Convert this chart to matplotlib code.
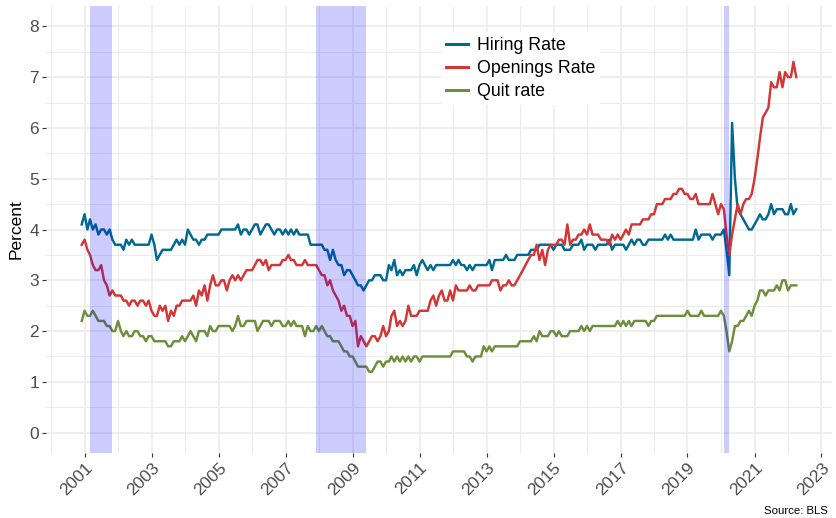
import pandas as pd
import matplotlib
matplotlib.use("Agg")
import matplotlib.pyplot as plt
from matplotlib.lines import Line2D

plt.rcParams['font.family'] = ['Liberation Sans', 'DejaVu Sans']

# ── Data: JOLTS monthly rates (percent), Dec 2000 .. Apr 2022 ────────────────
start_month = '2000-12-01'

hiring_rate = [
    4.1,
    4.3, 4.0, 4.2, 4.0, 4.1, 3.9, 4.0, 4.0, 3.9, 4.0, 3.8, 3.7,   # 2001
    3.7, 3.7, 3.6, 3.8, 3.7, 3.8, 3.7, 3.7, 3.7, 3.7, 3.7, 3.7,   # 2002
    3.9, 3.7, 3.4, 3.5, 3.6, 3.6, 3.6, 3.6, 3.7, 3.8, 3.7, 3.8,   # 2003
    3.7, 4.0, 3.9, 3.8, 3.8, 3.7, 3.8, 3.8, 3.9, 3.9, 3.9, 3.9,   # 2004
    3.9, 4.0, 4.0, 4.0, 4.0, 4.0, 4.0, 4.1, 3.9, 4.0, 4.0, 3.9,   # 2005
    4.0, 4.1, 4.1, 3.9, 4.0, 4.1, 4.1, 4.0, 3.9, 4.0, 4.0, 3.9,   # 2006
    4.0, 3.9, 4.0, 3.9, 4.0, 3.9, 3.9, 3.9, 3.9, 3.7, 3.7, 3.7,   # 2007
    3.7, 3.7, 3.6, 3.6, 3.4, 3.6, 3.4, 3.3, 3.3, 3.1, 3.2, 3.2,   # 2008
    3.1, 3.0, 2.9, 2.9, 2.8, 2.9, 3.0, 3.0, 3.1, 3.1, 3.1, 3.0,   # 2009
    3.0, 3.3, 3.2, 3.4, 3.1, 3.2, 3.1, 3.2, 3.2, 3.2, 3.3, 3.1,   # 2010
    3.3, 3.4, 3.3, 3.2, 3.3, 3.2, 3.3, 3.3, 3.3, 3.3, 3.3, 3.3,   # 2011
    3.4, 3.3, 3.4, 3.3, 3.3, 3.2, 3.3, 3.2, 3.3, 3.3, 3.3, 3.3,   # 2012
    3.3, 3.4, 3.2, 3.4, 3.4, 3.4, 3.4, 3.5, 3.4, 3.4, 3.4, 3.5,   # 2013
    3.5, 3.5, 3.5, 3.5, 3.6, 3.6, 3.6, 3.7, 3.7, 3.7, 3.7, 3.7,   # 2014
    3.6, 3.7, 3.7, 3.7, 3.6, 3.6, 3.6, 3.7, 3.7, 3.7, 3.8, 3.6,   # 2015
    3.7, 3.7, 3.7, 3.6, 3.7, 3.7, 3.7, 3.7, 3.8, 3.6, 3.7, 3.7,   # 2016
    3.7, 3.7, 3.6, 3.7, 3.8, 3.7, 3.8, 3.8, 3.7, 3.7, 3.8, 3.8,   # 2017
    3.8, 3.8, 3.8, 3.8, 3.9, 3.8, 3.9, 3.8, 3.8, 3.8, 3.8, 3.8,   # 2018
    3.8, 3.8, 3.8, 4.0, 3.8, 3.9, 3.9, 3.9, 3.9, 3.8, 3.9, 3.9,   # 2019
    3.9, 4.0, 3.6, 3.1, 6.1, 5.0, 4.4, 4.3, 4.2, 4.1, 4.0, 4.0,   # 2020
    4.1, 4.2, 4.3, 4.2, 4.2, 4.3, 4.5, 4.3, 4.4, 4.4, 4.4, 4.3,   # 2021
    4.3, 4.5, 4.3, 4.4,                                           # 2022
]

openings_rate = [
    3.7,
    3.8, 3.6, 3.5, 3.3, 3.2, 3.2, 3.3, 3.0, 2.9, 2.7, 2.8, 2.7,   # 2001
    2.7, 2.7, 2.6, 2.6, 2.5, 2.6, 2.6, 2.5, 2.6, 2.6, 2.5, 2.6,   # 2002
    2.4, 2.3, 2.3, 2.5, 2.4, 2.5, 2.2, 2.4, 2.3, 2.5, 2.5, 2.6,   # 2003
    2.6, 2.6, 2.6, 2.7, 2.5, 2.8, 2.7, 2.9, 2.6, 2.9, 3.1, 2.9,   # 2004
    2.9, 3.0, 3.0, 2.8, 3.0, 3.1, 3.0, 3.1, 3.0, 3.1, 3.2, 3.2,   # 2005
    3.2, 3.3, 3.4, 3.4, 3.3, 3.4, 3.2, 3.3, 3.3, 3.3, 3.3, 3.4,   # 2006
    3.4, 3.5, 3.4, 3.4, 3.3, 3.3, 3.3, 3.4, 3.3, 3.3, 3.3, 3.3,   # 2007
    3.2, 3.1, 3.1, 2.9, 3.0, 2.8, 2.7, 2.6, 2.4, 2.5, 2.3, 2.3,   # 2008
    2.1, 2.2, 1.7, 1.9, 1.8, 1.7, 1.8, 1.9, 1.9, 1.8, 1.9, 2.1,   # 2009
    1.9, 2.0, 2.3, 2.4, 2.1, 2.2, 2.1, 2.2, 2.5, 2.3, 2.3, 2.3,   # 2010
    2.4, 2.4, 2.4, 2.4, 2.6, 2.7, 2.5, 2.7, 2.8, 2.6, 2.6, 2.8,   # 2011
    2.6, 2.9, 2.8, 2.8, 2.8, 2.8, 2.9, 2.8, 2.8, 2.9, 2.9, 2.9,   # 2012
    2.9, 2.9, 3.0, 3.0, 3.0, 2.8, 2.9, 2.9, 3.0, 2.9, 2.9, 3.0,   # 2013
    3.1, 3.2, 3.3, 3.4, 3.5, 3.5, 3.7, 3.4, 3.6, 3.3, 3.6, 3.7,   # 2014
    3.7, 3.7, 3.8, 3.8, 3.7, 4.1, 3.7, 3.8, 3.8, 3.9, 3.9, 4.0,   # 2015
    3.9, 4.1, 3.9, 3.9, 3.9, 3.8, 3.8, 3.8, 3.7, 3.9, 3.8, 3.9,   # 2016
    3.8, 3.9, 4.0, 3.9, 4.1, 4.1, 4.1, 4.1, 4.2, 4.2, 4.2, 4.3,   # 2017
    4.3, 4.5, 4.5, 4.5, 4.6, 4.6, 4.6, 4.7, 4.7, 4.8, 4.8, 4.7,   # 2018
    4.7, 4.6, 4.6, 4.7, 4.5, 4.5, 4.5, 4.5, 4.5, 4.7, 4.5, 4.3,   # 2019
    4.5, 4.4, 3.9, 3.5, 3.9, 4.2, 4.5, 4.3, 4.5, 4.6, 4.6, 4.7,   # 2020
    5.0, 5.4, 5.8, 6.2, 6.3, 6.4, 6.9, 6.8, 6.8, 7.1, 6.8, 7.1,   # 2021
    7.0, 7.0, 7.3, 7.0,                                           # 2022
]

quit_rate = [
    2.2,
    2.4, 2.3, 2.3, 2.4, 2.3, 2.2, 2.2, 2.2, 2.1, 2.1, 2.0, 2.0,   # 2001
    2.2, 2.0, 1.9, 2.0, 1.9, 1.9, 2.0, 2.0, 1.9, 1.9, 1.8, 1.9,   # 2002
    1.9, 1.8, 1.8, 1.8, 1.8, 1.8, 1.7, 1.7, 1.8, 1.8, 1.8, 1.9,   # 2003
    1.8, 1.9, 2.0, 1.9, 1.8, 2.0, 2.0, 2.0, 1.9, 2.1, 2.0, 2.0,   # 2004
    2.1, 2.1, 2.1, 2.1, 2.1, 2.0, 2.1, 2.3, 2.1, 2.1, 2.2, 2.2,   # 2005
    2.2, 2.2, 2.0, 2.1, 2.2, 2.2, 2.2, 2.1, 2.2, 2.2, 2.2, 2.1,   # 2006
    2.1, 2.2, 2.1, 2.2, 2.1, 2.1, 2.1, 1.9, 2.1, 2.0, 2.0, 2.1,   # 2007
    2.0, 2.1, 2.0, 1.9, 1.9, 1.8, 1.8, 1.8, 1.7, 1.6, 1.6, 1.5,   # 2008
    1.5, 1.4, 1.3, 1.3, 1.3, 1.3, 1.2, 1.2, 1.3, 1.4, 1.4, 1.3,   # 2009
    1.4, 1.4, 1.5, 1.4, 1.5, 1.4, 1.5, 1.4, 1.5, 1.4, 1.5, 1.5,   # 2010
    1.4, 1.5, 1.5, 1.5, 1.5, 1.5, 1.5, 1.5, 1.5, 1.5, 1.5, 1.5,   # 2011
    1.6, 1.6, 1.6, 1.6, 1.6, 1.5, 1.5, 1.4, 1.5, 1.5, 1.5, 1.7,   # 2012
    1.6, 1.7, 1.6, 1.7, 1.7, 1.7, 1.7, 1.7, 1.7, 1.7, 1.7, 1.7,   # 2013
    1.8, 1.8, 1.8, 1.8, 1.8, 1.9, 1.8, 2.0, 1.9, 1.9, 1.9, 2.0,   # 2014
    2.0, 1.9, 2.0, 1.9, 1.9, 1.9, 2.0, 2.0, 2.0, 2.0, 2.1, 2.0,   # 2015
    2.1, 2.0, 2.1, 2.1, 2.1, 2.1, 2.1, 2.1, 2.1, 2.1, 2.1, 2.2,   # 2016
    2.1, 2.2, 2.1, 2.2, 2.1, 2.2, 2.2, 2.2, 2.2, 2.2, 2.1, 2.2,   # 2017
    2.2, 2.3, 2.3, 2.3, 2.3, 2.3, 2.3, 2.3, 2.3, 2.3, 2.3, 2.3,   # 2018
    2.4, 2.3, 2.3, 2.3, 2.3, 2.4, 2.3, 2.3, 2.3, 2.3, 2.3, 2.3,   # 2019
    2.4, 2.3, 2.0, 1.6, 1.8, 2.1, 2.1, 2.2, 2.2, 2.3, 2.4, 2.3,   # 2020
    2.5, 2.6, 2.8, 2.8, 2.7, 2.8, 2.8, 2.8, 2.9, 2.8, 3.0, 3.0,   # 2021
    2.8, 2.9, 2.9, 2.9,                                           # 2022
]

# NBER recessions
recession_starts = ['2001-03-01', '2007-12-01', '2020-02-01']
recession_ends = ['2001-11-01', '2009-06-01', '2020-04-01']

series_names = ['Hiring Rate', 'Openings Rate', 'Quit rate']
series_colors = ['#00698F', '#D43535', '#6E8E3C']

dates = pd.date_range(start_month, periods=len(hiring_rate), freq='MS')
df = pd.DataFrame({
    'Hiring Rate': hiring_rate,
    'Openings Rate': openings_rate,
    'Quit rate': quit_rate,
}, index=dates)

# ── Figure ───────────────────────────────────────────────────────────────────
W, H = 836, 518
fig = plt.figure(figsize=(W / 100, H / 100), dpi=100)
ax = fig.add_axes([46 / W, (H - 453) / H, (832 - 46) / W, (453 - 6) / H])

for name, col in zip(series_names, series_colors):
    ax.plot(df.index, df[name], color=col, lw=1.75, zorder=2,
            solid_joinstyle='round')

for s, e in zip(recession_starts, recession_ends):
    ax.axvspan(pd.Timestamp(s), pd.Timestamp(e), color='blue', alpha=0.2,
               lw=0, zorder=3)

ax.set_yticks(range(0, 9))
ax.set_yticks([v + 0.5 for v in range(0, 8)], minor=True)
odd_years = [pd.Timestamp(f'{y}-01-01') for y in range(2001, 2024, 2)]
even_years = [pd.Timestamp(f'{y}-01-01') for y in range(2000, 2023, 2)]
ax.set_xticks(odd_years)
ax.set_xticks(even_years, minor=True)
ax.set_xticklabels([str(d.year) for d in odd_years])

# axis limits like ggplot's 5% expansion (set after ticks so they stick)
span = dates[-1] - dates[0]
ax.set_xlim(dates[0] - 0.05 * span, dates[-1] + 0.05 * span)
ax.set_ylim(-0.4, 8.4)

ax.grid(which='major', color='#EBEBEB', lw=1.1, zorder=0)
ax.grid(which='minor', color='#EBEBEB', lw=0.7, zorder=0)
ax.set_axisbelow(True)
for sp in ax.spines.values():
    sp.set_visible(False)

ax.tick_params(which='major', length=3, width=0.8, color='#333333',
               labelsize=12.5, labelcolor='#4D4D4D', pad=2)
ax.tick_params(which='minor', length=0)
for lab in ax.get_xticklabels():
    lab.set_rotation(45)
    lab.set_ha('right')
    lab.set_va('top')
    lab.set_rotation_mode('anchor')

ax.set_ylabel('Percent', fontsize=12.5, color='black', labelpad=4)

handles = [Line2D([0], [0], color=c, lw=2.2) for c in series_colors]
ax.legend(handles, series_names, loc='upper left',
          bbox_to_anchor=(441 / W, 1 - 32 / H), bbox_transform=fig.transFigure,
          frameon=True, facecolor='white', edgecolor='none', framealpha=1,
          fontsize=12.8, handlelength=1.2, handletextpad=0.5,
          labelspacing=0.33, borderpad=0.3, borderaxespad=0)

fig.text(828 / W, 1 - 511 / H, 'Source: BLS', ha='right', va='center',
         fontsize=8.2, color='black')

fig.savefig('out.png', dpi=100)
